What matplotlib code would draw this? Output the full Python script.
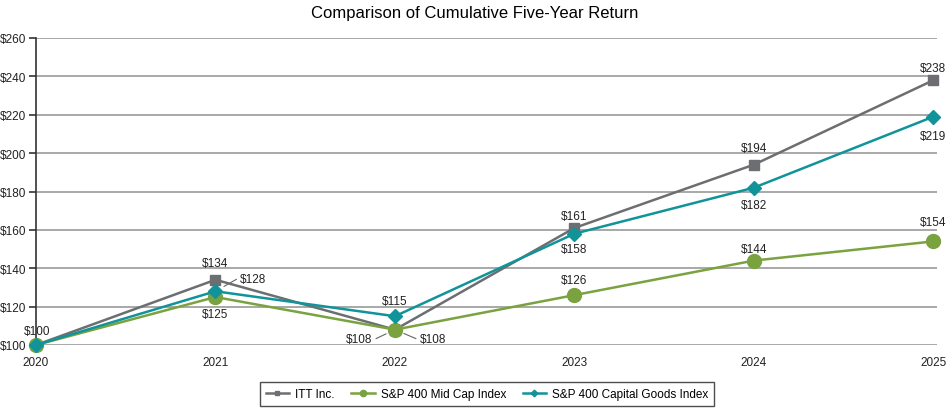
import matplotlib.pyplot as plt
import numpy as np

# data
years = [2020, 2021, 2022, 2023, 2024, 2025]
itt = [100, 134, 108, 161, 194, 238]
midcap = [100, 125, 108, 126, 144, 154]
capgoods = [100, 128, 115, 158, 182, 219]
y_ticks = [100, 120, 140, 160, 180, 200, 220, 240, 260]

# label offsets in pixels (None = no label)
itt_off = [None, (0, 17), (-36, -9), (0, 12), (0, 17), (0, 12)]
mid_off = [(1, 14), (0, -17), (38, -9), (0, 15), (0, 12), (0, 19)]
cap_off = [None, (38, 12), (0, 15), (0, -15), (0, -17), (0, -19)]

c_itt = '#6d6e71'
c_mid = '#7aa23f'
c_cap = '#11939a'

plt.rcParams['font.family'] = ['Liberation Sans', 'DejaVu Sans']

fig = plt.figure(figsize=(9.5, 4.1), dpi=100)
ax = fig.add_axes([36/950, 1-346/410, (937-36)/950, (346-39)/410])

ax.plot(years, itt, color=c_itt, lw=1.8, marker='s', ms=7.5, zorder=3, label='ITT Inc.')
ax.plot(years, midcap, color=c_mid, lw=1.8, marker='o', ms=10, zorder=4, label='S&P 400 Mid Cap Index')
ax.plot(years, capgoods, color=c_cap, lw=1.8, marker='D', ms=7.5, zorder=5, label='S&P 400 Capital Goods Index')


def label(xs, ys, offs):
    for x, y, off in zip(xs, ys, offs):
        if off is None:
            continue
        ax.annotate(f'${y}', xy=(x, y), xytext=off, textcoords='offset pixels',
                    ha='center', va='center', fontsize=8.5, color='#222222', zorder=6)
        if abs(off[0]) > 20:
            # short leader line between label and marker
            sgn = np.sign(off[0])
            ax.annotate('', xy=(x, y), xytext=(off[0] - sgn*17, off[1]),
                        textcoords='offset pixels',
                        arrowprops=dict(arrowstyle='-', color='#666666', lw=0.8,
                                        shrinkA=0, shrinkB=7),
                        zorder=2)


label(years, itt, itt_off)
label(years, midcap, mid_off)
label(years, capgoods, cap_off)

ax.set_xlim(2020, 2025.02)
ax.set_ylim(100, 260)
ax.set_yticks(y_ticks)
ax.set_yticklabels([f'${v}' for v in y_ticks])
ax.set_xticks(years)
ax.grid(axis='y', color='#9a9a9a', lw=1.2)
ax.set_axisbelow(True)
for s in ['top', 'right', 'bottom']:
    ax.spines[s].set_visible(False)
ax.spines['left'].set_color('#333333')
ax.spines['left'].set_linewidth(1.2)
ax.tick_params(axis='y', length=5, width=1.2, color='#333333', labelsize=8.5, pad=2)
ax.tick_params(axis='x', length=0, labelsize=8.5, pad=8)
for t in ax.get_xticklabels() + ax.get_yticklabels():
    t.set_color('#222222')
for ln in ax.lines:
    ln.set_clip_on(False)

fig.suptitle('Comparison of Cumulative Five-Year Return', fontsize=12, y=0.985, x=0.5)

leg = fig.legend(handles=ax.lines, loc='center', bbox_to_anchor=(487/950, 1-395/410), ncol=3,
                 fontsize=8.5, frameon=True, fancybox=False, edgecolor='#222222',
                 markerscale=0.45, handlelength=2.0, columnspacing=1.4, borderpad=0.5,
                 handletextpad=0.5)
leg.get_frame().set_linewidth(1.0)

plt.savefig('out.png', dpi=100)
